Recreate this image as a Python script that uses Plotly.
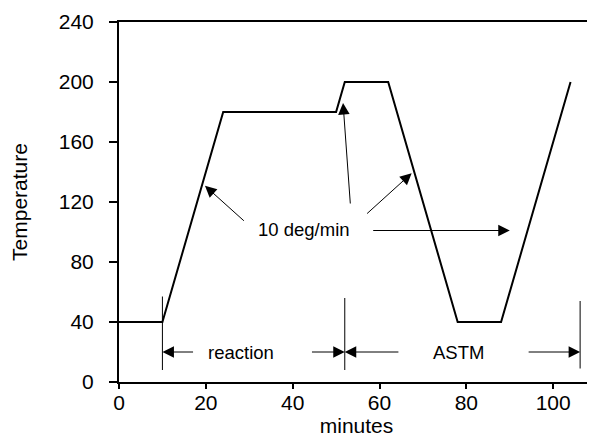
import plotly.graph_objects as go

# Temperature program
time_min = [0, 10, 24, 50, 52, 62, 78, 88, 104]
temperature = [40, 40, 180, 180, 200, 200, 40, 40, 200]

# Vertical boundary markers (x, y_low, y_high)
marker_x = [10, 52, 106.2]
marker_ylo = [8, 8, 9]
marker_yhi = [57, 56, 54]

# Arrows: (tip_x, tip_y, tail_x, tail_y)
rate_arrows = [
    (19.8, 130.8, 29.1, 106.6),
    (51.6, 186.0, 53.3, 118.0),
    (67.4, 139.2, 56.8, 111.4),
    (90.0, 101.0, 58.2, 101.0),
]
span_arrows = [
    (10, 20, 17.4, 20),
    (52, 20, 44.1, 20),
    (52, 20, 64.7, 20),
    (106.2, 20, 94.0, 20),
]
labels = [("10 deg/min", 42.6, 102), ("reaction", 28.2, 20), ("ASTM", 78.2, 20)]

x_ticks = [0, 20, 40, 60, 80, 100]
y_ticks = [0, 40, 80, 120, 160, 200, 240]

FONT = "Liberation Sans, Arial, Helvetica, sans-serif"

fig = go.Figure()
fig.add_trace(go.Scatter(x=time_min, y=temperature, mode="lines",
                         line=dict(color="black", width=2), showlegend=False,
                         hoverinfo="skip"))
for mx, lo, hi in zip(marker_x, marker_ylo, marker_yhi):
    fig.add_trace(go.Scatter(x=[mx, mx], y=[lo, hi], mode="lines",
                             line=dict(color="black", width=1), showlegend=False,
                             hoverinfo="skip"))

annotations = []
for tx, ty, ax, ay in rate_arrows + span_arrows:
    annotations.append(dict(x=tx, y=ty, ax=ax, ay=ay, xref="x", yref="y",
                            axref="x", ayref="y", text="", showarrow=True,
                            arrowhead=2, arrowsize=2.3, arrowwidth=1,
                            arrowcolor="black", standoff=0, startstandoff=0))
for txt, lx, ly in labels:
    annotations.append(dict(x=lx, y=ly, xref="x", yref="y", text=txt,
                            showarrow=False, font=dict(family=FONT, size=18.5,
                                                       color="black")))

# page body has an 8px margin, so the figure is shrunk and offset accordingly
fig.update_layout(
    width=587, height=429,
    margin=dict(l=111, r=1, t=14, b=55, autoexpand=False),
    paper_bgcolor="white", plot_bgcolor="white",
    font=dict(family=FONT, size=20, color="black"),
    annotations=annotations,
    xaxis=dict(range=[0, 109.4], tickvals=x_ticks, ticks="outside", ticklen=5,
               tickwidth=2, tickcolor="black", showline=True, linewidth=2,
               linecolor="black", mirror=True, showgrid=False, zeroline=False,
               ticklabelstandoff=-4,
               title=dict(text="minutes", standoff=9,
                          font=dict(size=21)),
               tickfont=dict(size=21)),
    yaxis=dict(range=[0, 240], tickvals=y_ticks, ticks="outside", ticklen=8,
               tickwidth=2, tickcolor="black", showline=True, linewidth=2,
               linecolor="black", mirror=True, showgrid=False, zeroline=False,
               ticklabelstandoff=11,
               title=dict(text="Temperature", standoff=28,
                          font=dict(size=21)),
               tickfont=dict(size=21)),
)

fig.write_html("out.html")
